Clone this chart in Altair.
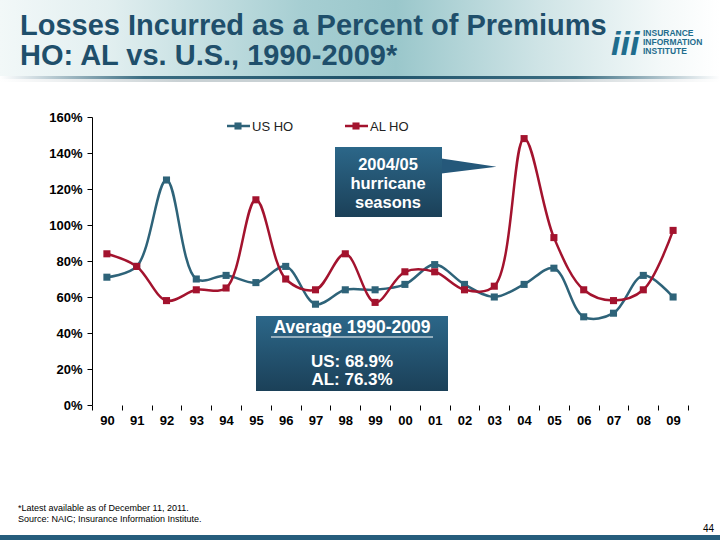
import altair as alt
import pandas as pd

# Homeowners losses incurred as a percent of premiums, 1990-2009
years = ["90", "91", "92", "93", "94", "95", "96", "97", "98", "99",
         "00", "01", "02", "03", "04", "05", "06", "07", "08", "09"]
us_ho = [71, 77, 125, 70, 72, 68, 77, 56, 64, 64, 67, 78, 67, 60, 67, 76, 49, 51, 72, 60]
al_ho = [84, 77, 58, 64, 65, 114, 70, 64, 84, 57, 74, 74, 64, 66, 148, 93, 64, 58, 64, 97]
series_names = ["US HO", "AL HO"]
series_colors = ["#2e6379", "#a3132e"]

title_lines = ["Losses Incurred as a Percent of Premiums", "HO: AL vs. U.S., 1990-2009*"]
callout_lines = ["2004/05", "hurricane", "seasons"]
avg_heading = "Average 1990-2009"
avg_lines = ["US: 68.9%", "AL: 76.3%"]
footnotes = ["*Latest available as of December 11, 2011.",
             "Source: NAIC; Insurance Information Institute."]
page_number = "44"
logo_words = ["INSURANCE", "INFORMATION", "INSTITUTE"]

df = pd.concat([
    pd.DataFrame({"year": years, "value": us_ho, "series": series_names[0]}),
    pd.DataFrame({"year": years, "value": al_ho, "series": series_names[1]}),
])

FONT = "Liberation Sans"
NARROW = "Liberation Sans Narrow, Liberation Sans"
one = pd.DataFrame({"k": [0]})

x_enc = alt.X("year:O", sort=years, bandPosition=0.5,
              scale=alt.Scale(type="band", paddingInner=0, paddingOuter=0),
              axis=alt.Axis(title=None, domain=False, tickBand="extent", tickSize=5,
                            tickColor="black", labelAngle=0, labelFont=FONT,
                            labelFontSize=13, labelFontWeight="bold", labelColor="black",
                            labelPadding=4))
y_enc = alt.Y("value:Q", scale=alt.Scale(domain=[0, 160]),
              axis=alt.Axis(title=None, values=list(range(0, 161, 20)), grid=False,
                            domainColor="black", tickColor="black", tickSize=5,
                            labelExpr="datum.value + '%'", labelFont=FONT, labelFontSize=13,
                            labelFontWeight="bold", labelColor="black", labelPadding=5))
color_enc = alt.Color("series:N", scale=alt.Scale(domain=series_names, range=series_colors),
                      legend=None)


def grad_h(stops):
    return alt.Gradient(gradient="linear", x1=0, x2=1, y1=0, y2=0,
                        stops=[alt.GradientStop(offset=o, color=c) for o, c in stops])


def grad_v(stops):
    return alt.Gradient(gradient="linear", x1=0, x2=0, y1=0, y2=1,
                        stops=[alt.GradientStop(offset=o, color=c) for o, c in stops])


def rect(x, x2, y, y2, fill):
    return alt.Chart(one).mark_rect(fill=fill, stroke=None).encode(
        x=alt.value(x), x2=alt.value(x2), y=alt.value(y), y2=alt.value(y2))


def label(txt, x, y, size, weight="normal", color="black", align="left", font=FONT,
          style="normal"):
    return alt.Chart(one).mark_text(text=txt, align=align, baseline="alphabetic",
                                    font=font, fontSize=size, fontWeight=weight,
                                    fontStyle=style, color=color).encode(
        x=alt.value(x), y=alt.value(y))


# Header band with title
header = rect(-92, 628, -117, -40, grad_h([(0, "#f2f8f8"), (0.15, "#e2eff0"), (0.42, "#a6ced2"),
                                           (0.55, "#9ac7cb"), (0.75, "#cfe4e6"),
                                           (0.92, "#f4f9f9"), (1, "#ffffff")]))
separator = rect(-92, 628, -41, -38, grad_h([(0, "#ffffff"), (0.2, "#3a6d82"), (0.5, "#1f5269"),
                                             (0.8, "#3a6d82"), (1, "#ffffff")]))
shadow = rect(-92, 628, -38, -35, grad_h([(0, "#ffffff"), (0.25, "#c9d1d4"), (0.75, "#c9d1d4"),
                                          (1, "#ffffff")]))
title_color = "#1f4f6b"
titles = [label(title_lines[0], -72, -82, 29, "bold", title_color),
          label(title_lines[1], -72, -52, 29, "bold", title_color)]

logo = [label("iii", 519, -62, 34, "bold", "#1f6d8d", style="italic")]
for i, w in enumerate(logo_words):
    logo.append(label(w, 551, -81 + 9 * i, 8.5, "bold", "#1f6d8d"))

bottom_bar = rect(-92, 628, 418, 423, "#265d7c")

# Series lines and markers
lines = alt.Chart(df).mark_line(interpolate="catmull-rom", strokeWidth=2.5).encode(
    x=x_enc, y=y_enc, color=color_enc, detail="series:N")
points = alt.Chart(df).mark_point(shape="square", filled=True, size=50, opacity=1).encode(
    x=x_enc, y=y_enc, color=color_enc)

# Legend drawn inside the plot
legend = []
for name, col, x0 in zip(series_names, series_colors, [135, 253]):
    legend.append(alt.Chart(one).mark_rule(color=col, strokeWidth=2.5).encode(
        x=alt.value(x0), x2=alt.value(x0 + 23), y=alt.value(9)))
    legend.append(alt.Chart(one).mark_point(shape="square", filled=True, size=50, opacity=1,
                                            color=col).encode(
        x=alt.value(x0 + 11), y=alt.value(9)))
    legend.append(label(name, x0 + 25, 14, 13, "normal", "#222222"))

# Hurricane callout
box_fill = grad_v([(0, "#2c6789"), (1, "#1b4058")])
callout_box = rect(243, 350, 30, 100, box_fill)
pointer = alt.Chart(one).mark_point(shape="M-1,-0.27L1,0.03L-1,0.27Z", size=3025, filled=True,
                                    opacity=1, color="#25587a", strokeWidth=0).encode(
    x=alt.value(377), y=alt.value(49))
callout_text = [label(t, 296, y, 16.5, "bold", "white", "center")
                for t, y in zip(callout_lines, [53, 72, 91])]

# Average box
avg_box = rect(164, 356, 199, 274, box_fill)
avg_text = [label(avg_heading, 260, 216, 17.5, "bold", "white", "center"),
            alt.Chart(one).mark_rule(color="white", strokeWidth=1.2).encode(
                x=alt.value(179), x2=alt.value(341), y=alt.value(220)),
            label(avg_lines[0], 260, 250, 17, "bold", "white", "center"),
            label(avg_lines[1], 260, 268, 17, "bold", "white", "center")]

notes = [label(footnotes[0], -74, 394, 9, font=NARROW),
         label(footnotes[1], -74, 405, 9, font=NARROW),
         label(page_number, 622, 415, 10, align="right", font=NARROW)]

chart = alt.layer(
    header, separator, shadow, *titles, *logo, bottom_bar,
    lines, points, *legend,
    pointer, callout_box, *callout_text,
    avg_box, *avg_text, *notes,
).properties(
    width=596, height=288,
    padding={"left": 92, "top": 117, "right": 32, "bottom": 135},
    autosize=alt.AutoSizeParams(type="none"),
    background="white",
).configure_view(stroke=None)

chart.save("out.html", embed_options={"renderer": "svg", "actions": False})
